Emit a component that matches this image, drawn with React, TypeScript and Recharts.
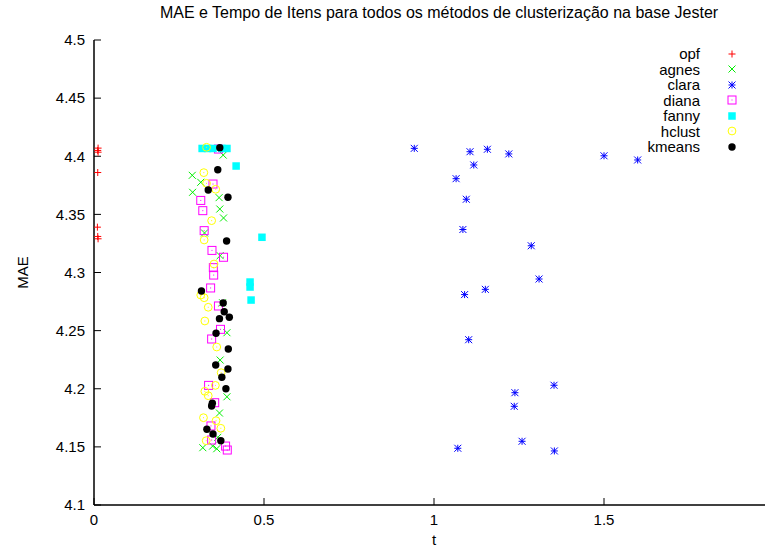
import React from "react"
import { ScatterChart, Scatter, XAxis, YAxis } from "recharts"

const xTicks = [0, 0.5, 1, 1.5]
const yTicks = [4.1, 4.15, 4.2, 4.25, 4.3, 4.35, 4.4, 4.45, 4.5]

// [t, mae]
const opfPoints = [
  [0.012, 4.407], [0.011, 4.405], [0.012, 4.4035], [0.011, 4.386],
  [0.01, 4.339], [0.011, 4.331], [0.012, 4.329],
]
const agnesPoints = [
  [0.38, 4.401], [0.289, 4.3836], [0.314, 4.3776], [0.29, 4.369], [0.368, 4.3644],
  [0.37, 4.3546], [0.381, 4.3469], [0.325, 4.334], [0.371, 4.3145], [0.378, 4.274],
  [0.391, 4.2482], [0.371, 4.2247], [0.391, 4.1931], [0.369, 4.1791], [0.364, 4.1582],
  [0.32, 4.1493], [0.349, 4.1507], [0.361, 4.1484],
]
const claraPoints = [
  [0.942, 4.4068], [1.106, 4.4039], [1.157, 4.406], [1.22, 4.402], [1.5, 4.4004],
  [1.599, 4.3968], [1.117, 4.3925], [1.065, 4.3807], [1.095, 4.363], [1.085, 4.337],
  [1.286, 4.323], [1.309, 4.2944], [1.151, 4.2855], [1.09, 4.281], [1.102, 4.2422],
  [1.353, 4.203], [1.238, 4.1966], [1.236, 4.1849], [1.259, 4.1548], [1.07, 4.1488],
  [1.354, 4.1465],
]
const dianaPoints = [
  [0.366, 4.4062], [0.35, 4.3761], [0.314, 4.362], [0.32, 4.3532], [0.324, 4.336],
  [0.347, 4.319], [0.381, 4.3131], [0.351, 4.3042], [0.352, 4.2978], [0.343, 4.2867],
  [0.366, 4.2712], [0.372, 4.2511], [0.346, 4.2428], [0.337, 4.2029], [0.355, 4.188],
  [0.344, 4.168], [0.346, 4.1559], [0.387, 4.1507], [0.392, 4.1473],
]
const fannyPoints = [
  [0.318, 4.4067], [0.334, 4.4067], [0.35, 4.4067], [0.376, 4.4067], [0.391, 4.4067],
  [0.418, 4.3916], [0.494, 4.3303], [0.459, 4.2918], [0.459, 4.2875], [0.462, 4.2763],
]
const hclustPoints = [
  [0.331, 4.4077], [0.323, 4.3859], [0.331, 4.3767], [0.358, 4.3716], [0.346, 4.3446],
  [0.324, 4.328], [0.353, 4.3073], [0.314, 4.2806], [0.324, 4.2783], [0.336, 4.2701],
  [0.326, 4.2583], [0.361, 4.2359], [0.374, 4.2138], [0.357, 4.2029], [0.326, 4.1978],
  [0.336, 4.194], [0.322, 4.1751], [0.359, 4.1725], [0.373, 4.166], [0.33, 4.1553],
]
const kmeansPoints = [
  [0.37, 4.4074], [0.364, 4.3884], [0.336, 4.371], [0.394, 4.3647], [0.39, 4.3271],
  [0.316, 4.2841], [0.38, 4.2738], [0.383, 4.2663], [0.398, 4.2615], [0.369, 4.2603],
  [0.359, 4.2477], [0.395, 4.2342], [0.358, 4.2204], [0.394, 4.217], [0.376, 4.2099],
  [0.388, 4.2], [0.348, 4.1875], [0.346, 4.1852], [0.332, 4.1651], [0.35, 4.1611],
  [0.373, 4.1553],
]

const toRows = (pts: number[][]) => pts.map(([t, mae]) => ({ t, mae }))

const FONT = "'Liberation Sans', Arial, Helvetica, sans-serif"

function Marker({ kind, cx, cy, color }: { kind: string; cx: number; cy: number; color: string }) {
  const h = 3.5
  switch (kind) {
    case "plus":
      return (
        <g stroke={color} strokeWidth={1}>
          <line x1={cx - h} y1={cy} x2={cx + h} y2={cy} />
          <line x1={cx} y1={cy - h} x2={cx} y2={cy + h} />
        </g>
      )
    case "cross":
      return (
        <g stroke={color} strokeWidth={1}>
          <line x1={cx - h} y1={cy - h} x2={cx + h} y2={cy + h} />
          <line x1={cx - h} y1={cy + h} x2={cx + h} y2={cy - h} />
        </g>
      )
    case "star":
      return (
        <g stroke={color} strokeWidth={1}>
          <line x1={cx - h} y1={cy} x2={cx + h} y2={cy} />
          <line x1={cx} y1={cy - h} x2={cx} y2={cy + h} />
          <line x1={cx - h} y1={cy - h} x2={cx + h} y2={cy + h} />
          <line x1={cx - h} y1={cy + h} x2={cx + h} y2={cy - h} />
        </g>
      )
    case "boxdot":
      return (
        <g>
          <rect x={cx - 4} y={cy - 4} width={8} height={8} fill="none" stroke={color} strokeWidth={1} />
          <rect x={cx - 0.5} y={cy - 0.5} width={1} height={1} fill={color} />
        </g>
      )
    case "box":
      return <rect x={cx - 3.75} y={cy - 3.75} width={7.5} height={7.5} fill={color} />
    case "circledot":
      return (
        <g>
          <circle cx={cx} cy={cy} r={3.9} fill="none" stroke={color} strokeWidth={1} />
          <rect x={cx - 0.5} y={cy - 0.5} width={1} height={1} fill={color} />
        </g>
      )
    default:
      return <circle cx={cx} cy={cy} r={3.7} fill={color} />
  }
}

const series = [
  { name: "opf", kind: "plus", color: "#ff0000", data: toRows(opfPoints) },
  { name: "agnes", kind: "cross", color: "#00ee00", data: toRows(agnesPoints) },
  { name: "clara", kind: "star", color: "#0000ff", data: toRows(claraPoints) },
  { name: "diana", kind: "boxdot", color: "#ff00ff", data: toRows(dianaPoints) },
  { name: "fanny", kind: "box", color: "#00ffff", data: toRows(fannyPoints) },
  { name: "hclust", kind: "circledot", color: "#ffff00", data: toRows(hclustPoints) },
  { name: "kmeans", kind: "dot", color: "#000000", data: toRows(kmeansPoints) },
]

function GnuLegend() {
  return (
    <div
      style={{
        position: "absolute", top: 46, left: 540, width: 200,
        fontFamily: FONT, fontSize: 15, color: "#000",
      }}
    >
      {series.map((s) => (
        <div key={s.name} style={{ display: "flex", justifyContent: "flex-end", alignItems: "center", height: 15.5 }}>
          <span style={{ lineHeight: "15.5px" }}>{s.name}</span>
          <svg width={16} height={14} style={{ marginLeft: 24 }}>
            <Marker kind={s.kind} cx={8} cy={7} color={s.color} />
          </svg>
        </div>
      ))}
    </div>
  )
}

const fmt = (v: number) => String(v)

export default function App() {
  return (
    <div style={{ position: "absolute", left: 0, top: 0, width: 765, height: 548, overflow: "hidden", background: "#fff" }}>
      <div
        style={{
          position: "absolute", left: 0, top: 4, width: 878, textAlign: "center",
          fontFamily: FONT, fontSize: 16, color: "#000",
        }}
      >
        MAE e Tempo de Itens para todos os métodos de clusterização na base Jester
      </div>
      <ScatterChart width={800} height={548} margin={{ top: 40, right: 26, bottom: 13, left: 0 }}>
        <XAxis
          xAxisId="bottom"
          type="number"
          dataKey="t"
          domain={[0, 2]}
          ticks={xTicks}
          tickFormatter={fmt}
          allowDataOverflow
          height={30}
          axisLine={{ stroke: "#000", strokeWidth: 1.5 }}
          tickLine={{ stroke: "#000" }}
          tickSize={-7}
          tickMargin={16}
          tick={{ fill: "#000", fontSize: 15, fontFamily: FONT }}
          label={({ viewBox }: any) => (
            <text x={viewBox.x + viewBox.width / 2} y={viewBox.y + 40} textAnchor="middle" fontSize={15} fontFamily={FONT} fill="#000">
              t
            </text>
          )}
        />
        <XAxis
          xAxisId="top"
          orientation="top"
          type="number"
          dataKey="t"
          domain={[0, 2]}
          ticks={xTicks}
          height={0}
          axisLine={{ stroke: "#000", strokeWidth: 1.5 }}
          tickLine={{ stroke: "#000" }}
          tickSize={-7}
          tick={{ fill: "none", fontSize: 1 }}
        />
        <YAxis
          yAxisId="left"
          type="number"
          dataKey="mae"
          domain={[4.1, 4.5]}
          ticks={yTicks}
          tickFormatter={fmt}
          allowDataOverflow
          width={94}
          axisLine={{ stroke: "#000", strokeWidth: 1.5 }}
          tickLine={{ stroke: "#000" }}
          tickSize={-7}
          tickMargin={16}
          tick={{ fill: "#000", fontSize: 15, fontFamily: FONT }}
          label={({ viewBox }: any) => (
            <text
              x={22}
              y={viewBox.y + viewBox.height / 2}
              transform={`rotate(-90 22 ${viewBox.y + viewBox.height / 2})`}
              textAnchor="middle"
              dominantBaseline="central"
              fontSize={15}
              fontFamily={FONT}
              fill="#000"
            >
              MAE
            </text>
          )}
        />
        {series.map((s) => (
          <Scatter
            key={s.name}
            name={s.name}
            data={s.data}
            xAxisId="bottom"
            yAxisId="left"
            isAnimationActive={false}
            shape={(p: any) => <Marker kind={s.kind} cx={p.cx} cy={p.cy} color={s.color} />}
          />
        ))}
      </ScatterChart>
      <GnuLegend />
    </div>
  )
}
